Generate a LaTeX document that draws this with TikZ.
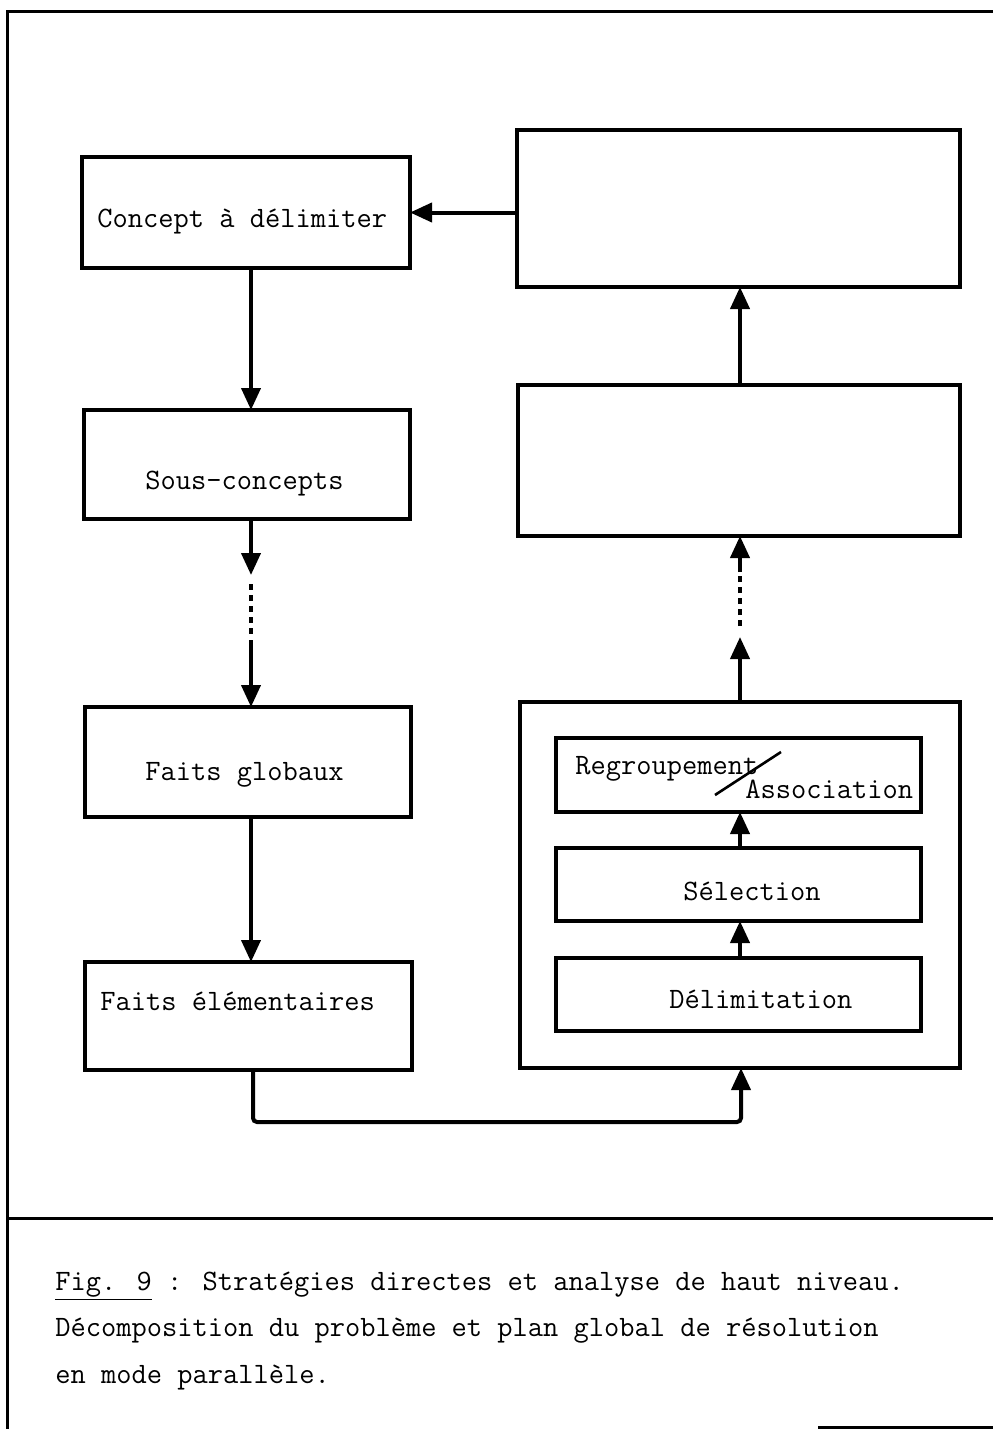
\documentclass[tikz,border=0pt]{standalone}
\usepackage{fontspec}
\usetikzlibrary{arrows.meta,fit}
\begin{document}
\begin{tikzpicture}[x=0.5pt,y=-0.5pt,
  frame/.style={line width=1.5pt},
  box/.style={draw,line width=1.7pt,inner sep=0pt,outer sep=0pt},
  arr/.style={line width=2pt,-{Triangle[width=9.5pt,length=11pt]}},
  dots/.style={line width=2.2pt,dash pattern=on 3pt off 2.5pt},
  txt/.style={anchor=base west,inner sep=0pt,font=\ttfamily\fontsize{14.8pt}{17pt}\selectfont\addfontfeatures{FakeBold=1.5}}]
\useasboundingbox (0,0) rectangle (993,1429);
% frame
\draw[frame] (7,1429) -- (7,12) -- (993,12);
\draw[frame] (7,1218) -- (993,1218);
\draw[frame] (818,1427) -- (993,1427);
% left column
\node[box,fit={(82,157)(410,268)}] (concept) {};
\node[box,fit={(84,410)(410,519)}] (sous) {};
\node[box,fit={(85,707)(411,817)}] (glob) {};
\node[box,fit={(85,962)(412,1070)}] (elem) {};
% right column
\node[box,fit={(517,130)(960,287)}] (top) {};
\node[box,fit={(518,385)(960,536)}] (mid) {};
\node[box,fit={(520,702)(960,1068)}] (outer) {};
\node[box,fit={(556,738)(921,812)}] (regr) {};
\node[box,fit={(556,848)(921,921)}] (sel) {};
\node[box,fit={(556,958)(921,1031)}] (delim) {};
% texts
\node[txt] (tconcept) at (97,227) {Concept à délimiter};
\node[txt] (tsous) at (145,489) {Sous-concepts};
\node[txt] (tglob) at (145,780) {Faits globaux};
\node[txt] (telem) at (100,1010) {Faits élémentaires};
\node[txt] (tregr) at (575,774) {Regroupement};
\node[txt] (tassoc) at (745,798) {Association};
\node[txt] (tsel) at (683,900) {Sélection};
\node[txt] (tdelim) at (669,1008) {Délimitation};
\draw[line width=1.3pt] (715,795) -- (781,752);
% coordinates
\coordinate (xL) at (251,0);
\coordinate (xE) at (253,0);
\coordinate (xR) at (740,0);
\coordinate (l1) at (251,575);
\coordinate (l2) at (251,584);
\coordinate (l3) at (251,636);
\coordinate (l4) at (251,640);
\coordinate (r1) at (740,637);
\coordinate (r2) at (740,626);
\coordinate (r3) at (740,572);
\coordinate (bl) at (253,1122);
\coordinate (br) at (741,1122);
% connectors
\draw[arr] (top.west |- concept.east) -- (concept.east);
\draw[arr] (concept.south -| xL) -- (sous.north -| xL);
\draw[arr] (sous.south -| xL) -- (l1);
\draw[dots] (l2) -- (l3);
\draw[arr] (l4) -- (glob.north -| xL);
\draw[arr] (glob.south -| xL) -- (elem.north -| xL);
\draw[arr,rounded corners=2pt] (elem.south -| xE) -- (bl) -- (br) -- (outer.south -| br);
\draw[arr] (delim.north -| xR) -- (sel.south -| xR);
\draw[arr] (sel.north -| xR) -- (regr.south -| xR);
\draw[arr] (outer.north -| xR) -- (r1);
\draw[dots] (r2) -- (r3);
\draw[arr] (r3) -- (mid.south -| xR);
\draw[arr] (mid.north -| xR) -- (top.south -| xR);
% caption
\node[txt] (cap1) at (55,1290) {\underline{Fig. 9} : Stratégies directes et analyse de haut niveau.};
\node[txt] (cap2) at (55,1336) {Décomposition du problème et plan global de résolution};
\node[txt] (cap3) at (55,1383) {en mode parallèle.};
\end{tikzpicture}
\end{document}
